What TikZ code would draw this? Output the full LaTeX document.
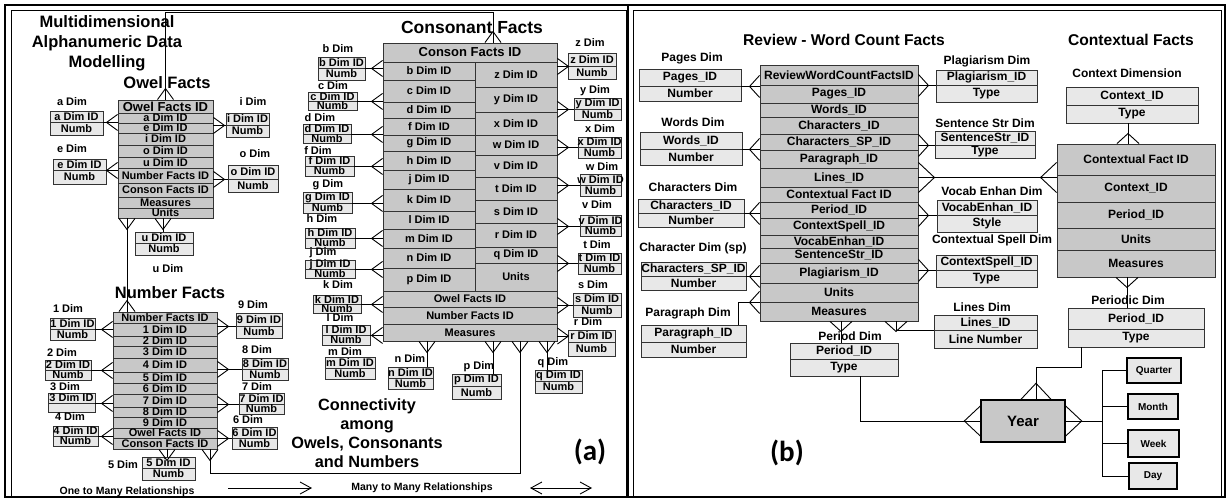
\documentclass[tikz,border=0pt]{standalone}
\usepackage{fontspec}
\setmainfont{Liberation Sans}
\newfontfamily\tagfont{Carlito}
\usepackage{tikz}
\definecolor{factgray}{RGB}{200,200,200}
\definecolor{dimgray}{RGB}{232,232,232}
\usetikzlibrary{positioning,fit,arrows.meta}

% one row of a facts table: [font] name x1 y1 x2 y2 text
\newcommand{\frow}[7][]{\node[factcell, fit={(#3,#4) (#5,#6)}, label={[cellfont,#1]center:{#7}}] (#2) {};}
% a dimension table: name x1 x2 y1 ymid y2 row1 row2
\newcommand{\dimtab}[8]{%
  \node[dimcell, fit={(#2,#4) (#3,#5)}, label={[cellfont]center:{#7}}] (#1) {};
  \node[dimcell, fit={(#2,#5) (#3,#6)}, label={[cellfont]center:{#8}}] (#1-b) {};}
% dimension left / right of a facts table
\newcommand{\linkW}[3][crow]{\draw[conn] (#2.south east) -- (#2.south east -| #3.west) pic{#1};}
\newcommand{\linkE}[3][crow]{\draw[conn] (#2.south west) -- (#2.south west -| #3.east) pic[rotate=180]{#1};}

\begin{document}
\begin{tikzpicture}[x=1pt, y=-1pt,
  conn/.style={draw=black, line width=0.9pt},
  factcell/.style={draw=black!80, fill=factgray, line width=0.9pt, inner sep=0pt},
  dimcell/.style={draw=black!80, fill=dimgray, line width=0.9pt, inner sep=0pt},
  cellfont/.style={font=\bfseries\fontsize{11}{12}\selectfont},
  bigcell/.style={font=\bfseries\fontsize{13}{14}\selectfont},
  lbl/.style={font=\bfseries\fontsize{11}{12}\selectfont, inner sep=0pt},
  head/.style={font=\bfseries\fontsize{16.5}{20}\selectfont, align=center, inner sep=0pt},
  tag/.style={font=\tagfont\bfseries\fontsize{29}{30}\selectfont, inner sep=0pt},
  yearbox/.style={draw=black, fill=factgray, line width=1.4pt, inner sep=0pt},
  periodbox/.style={draw=black, fill=dimgray, line width=1.4pt, inner sep=0pt},
  crow/.pic={\draw[conn] (0,-8) -- (-11,0) -- (0,8);},
  wcrow/.pic={\draw[conn] (0,-11) -- (-10,0) -- (0,11);},
  bigcrow/.pic={\draw[conn] (0,-15) -- (-16,0) -- (0,15);}
]
\useasboundingbox (0,0) rectangle (1229,500);

% frames
\draw[line width=2pt] (5,5) rectangle (1225,497);
\draw[line width=0.8pt] (11,10) rectangle (626,497);
\draw[line width=2pt] (628,5) -- (628,497);
\draw[line width=0.8pt] (633,10) rectangle (1221,497);

%%% (a)
\node[head] (title) at (107,43) {Multidimensional\\Alphanumeric Data\\Modelling};
\node[head] (owel-t) at (167,83) {Owel Facts};
\node[head] (num-t) at (170,293) {Number Facts};
\node[head, font=\bfseries\fontsize{17.5}{20}\selectfont] (con-t) at (472,27) {Consonant Facts};

% owel facts
\frow[bigcell]{o-id}{118}{100}{213}{113}{Owel Facts ID}
\frow{o-a}{118}{113}{213}{123}{a Dim ID}
\frow{o-e}{118}{123}{213}{133}{e Dim ID}
\frow{o-i}{118}{133}{213}{145}{i Dim ID}
\frow{o-o}{118}{145}{213}{157}{o Dim ID}
\frow{o-u}{118}{157}{213}{168}{u Dim ID}
\frow{o-num}{118}{168}{213}{183}{Number Facts ID}
\frow{o-con}{118}{183}{213}{197}{Conson Facts ID}
\frow{o-meas}{118}{197}{213}{208}{Measures}
\frow{o-units}{118}{208}{213}{218}{Units}

\node[lbl] (adim-t) at (72,102) {a Dim};
\dimtab{adim}{50}{103}{111}{122}{135}{a Dim ID}{Numb}
\node[lbl] (edim-t) at (72,149) {e Dim};
\dimtab{edim}{53}{106}{159}{170}{184}{e Dim ID}{Numb}
\node[lbl] (idim-t) at (253,102) {i Dim};
\dimtab{idim}{226}{269}{113}{125}{137}{i Dim ID}{Numb}
\node[lbl] (odim-t) at (255,154) {o Dim};
\dimtab{odim}{228}{278}{165}{179}{192}{o Dim ID}{Numb}
\dimtab{udim}{135}{193}{232}{243}{255}{u Dim ID}{Numb}
\node[lbl] (udim-t) at (168,269) {u Dim};

\linkW{adim}{o-id}
\linkW{edim}{o-id}
\linkE{idim}{o-id}
\linkE{odim}{o-id}
\draw[conn] (163,0 |- o-units.south) pic[rotate=90]{crow} -- (163,0 |- udim.north);

% number facts
\frow{n-id}{113}{312}{217}{323}{Number Facts ID}
\frow{n-1}{113}{323}{217}{336}{1 Dim ID}
\frow{n-2}{113}{336}{217}{346}{2 Dim ID}
\frow{n-3}{113}{346}{217}{358}{3 Dim ID}
\frow{n-4}{113}{358}{217}{372}{4 Dim ID}
\frow{n-5}{113}{372}{217}{383}{5 Dim ID}
\frow{n-6}{113}{383}{217}{394}{6 Dim ID}
\frow{n-7}{113}{394}{217}{407}{7 Dim ID}
\frow{n-8}{113}{407}{217}{417}{8 Dim ID}
\frow{n-9}{113}{417}{217}{428}{9 Dim ID}
\frow{n-ow}{113}{428}{217}{438}{Owel Facts ID}
\frow{n-con}{113}{438}{217}{449}{Conson Facts ID}

\node[lbl] (d1-t) at (68,309) {1 Dim};
\dimtab{d1}{50}{95}{318}{329}{340}{1 Dim ID}{Numb}
\node[lbl] (d2-t) at (62,353) {2 Dim};
\dimtab{d2}{45}{91}{360}{370}{380}{2 Dim ID}{Numb}
\node[lbl] (d3-t) at (65,387) {3 Dim};
\dimtab{d3}{48}{95}{393}{403}{412}{3 Dim ID}{}
\node[lbl] (d4-t) at (70,417) {4 Dim};
\dimtab{d4}{53}{98}{426}{436}{446}{4 Dim ID}{Numb}
\node[lbl] (d9-t) at (253,305) {9 Dim};
\dimtab{d9}{236}{282}{313}{326}{338}{9 Dim ID}{Numb}
\node[lbl] (d8-t) at (257,350) {8 Dim};
\dimtab{d8}{242}{288}{358}{369}{380}{8 Dim ID}{Numb}
\node[lbl] (d7-t) at (257,387) {7 Dim};
\dimtab{d7}{239}{284}{393}{404}{414}{7 Dim ID}{Numb}
\node[lbl] (d6-t) at (248,420) {6 Dim};
\dimtab{d6}{232}{277}{427}{438}{449}{6 Dim ID}{Numb}
\node[lbl] (d5-t) at (123,465) {5 Dim};
\dimtab{d5}{142}{195}{457}{468}{480}{5 Dim ID}{Numb}

\linkW{d1}{n-id}
\linkW{d2}{n-id}
\linkW{d3}{n-id}
\linkW{d4}{n-id}
\linkE{d9}{n-id}
\linkE{d8}{n-id}
\linkE{d7}{n-id}
\linkE{d6}{n-id}
\draw[conn] (167,0 |- n-con.south) pic[rotate=90]{crow} -- (167,0 |- d5.north);

% consonant facts
\frow[bigcell]{c-id}{383}{43}{557}{62}{Conson Facts ID}
\frow{c-b}{383}{62}{475}{80}{b Dim ID}
\frow{c-c}{383}{80}{475}{102}{c Dim ID}
\frow{c-d}{383}{102}{475}{118}{d Dim ID}
\frow{c-f}{383}{118}{475}{135}{f Dim ID}
\frow{c-g}{383}{135}{475}{151}{g Dim ID}
\frow{c-h}{383}{151}{475}{170}{h Dim ID}
\frow{c-j}{383}{170}{475}{189}{j Dim ID}
\frow{c-k}{383}{189}{475}{211}{k Dim ID}
\frow{c-l}{383}{211}{475}{229}{l Dim ID}
\frow{c-m}{383}{229}{475}{248}{m Dim ID}
\frow{c-n}{383}{248}{475}{268}{n Dim ID}
\frow{c-p}{383}{268}{475}{291}{p Dim ID}
\frow{c-z}{475}{62}{557}{87}{z Dim ID}
\frow{c-y}{475}{87}{557}{112}{y Dim ID}
\frow{c-x}{475}{112}{557}{135}{x Dim ID}
\frow{c-w}{475}{135}{557}{155}{w Dim ID}
\frow{c-v}{475}{155}{557}{177}{v Dim ID}
\frow{c-t}{475}{177}{557}{200}{t Dim ID}
\frow{c-s}{475}{200}{557}{223}{s Dim ID}
\frow{c-r}{475}{223}{557}{247}{r Dim ID}
\frow{c-q}{475}{247}{557}{263}{q Dim ID}
\frow{c-units}{475}{263}{557}{291}{Units}
\frow{c-ow}{383}{291}{557}{307}{Owel Facts ID}
\frow{c-num}{383}{307}{557}{324}{Number Facts ID}
\frow{c-meas}{383}{324}{557}{341}{Measures}

\node[lbl] (bdim-t) at (338,49) {b Dim};
\dimtab{bdim}{318}{365}{57}{68}{80}{b Dim ID}{Numb}
\node[lbl] (cdim-t) at (333,86) {c Dim};
\dimtab{cdim}{308}{357}{92}{101}{110}{c Dim ID}{Numb}
\node[lbl] (ddim-t) at (320,118) {d Dim};
\dimtab{ddim}{303}{351}{124}{134}{143}{d Dim ID}{Numb}
\node[lbl] (fdim-t) at (318,151) {f Dim};
\dimtab{fdim}{305}{354}{156}{166}{176}{f Dim ID}{Numb}
\node[lbl] (gdim-t) at (328,185) {g Dim};
\dimtab{gdim}{303}{352}{192}{203}{213}{g Dim ID}{Numb}
\node[lbl] (hdim-t) at (322,219) {h Dim};
\dimtab{hdim}{305}{355}{228}{238}{248}{h Dim ID}{Numb}
\node[lbl] (jdim-t) at (323,253) {j Dim};
\dimtab{jdim}{305}{355}{260}{269}{278}{j Dim ID}{Numb}
\node[lbl] (kdim-t) at (338,285) {k Dim};
\dimtab{kdim}{313}{361}{295}{304}{313}{k Dim ID}{Numb}
\node[lbl] (ldim-t) at (340,318) {l Dim};
\dimtab{ldim}{322}{370}{325}{335}{345}{l Dim ID}{Numb}
\node[lbl] (mdim-t) at (345,352) {m Dim};
\dimtab{mdim}{325}{375}{357}{368}{379}{m Dim ID}{Numb}
\node[lbl] (ndim-t) at (410,359) {n Dim};
\dimtab{ndim}{388}{433}{367}{378}{389}{n Dim ID}{Numb}
\node[lbl] (pdim-t) at (479,367) {p Dim};
\dimtab{pdim}{452}{501}{374}{386}{399}{p Dim ID}{Numb}
\node[lbl] (qdim-t) at (553,363) {q Dim};
\dimtab{qdim}{535}{582}{370}{381}{393}{q Dim ID}{Numb}
\node[lbl] (zdim-t) at (590,43) {z Dim};
\dimtab{zdim}{568}{616}{53}{66}{79}{z Dim ID}{Numb}
\node[lbl] (ydim-t) at (595,91) {y Dim};
\dimtab{ydim}{574}{621}{98}{109}{120}{y Dim ID}{Numb}
\node[lbl] (xdim-t) at (600,129) {x Dim};
\dimtab{xdim}{578}{621}{137}{147}{158}{x Dim ID}{Numb}
\node[lbl] (wdim-t) at (602,167) {w Dim};
\dimtab{wdim}{580}{621}{174}{185}{196}{w Dim ID}{Numb}
\node[lbl] (vdim-t) at (597,205) {v Dim};
\dimtab{vdim}{580}{621}{215}{226}{236}{v Dim ID}{Numb}
\node[lbl] (tdim-t) at (597,245) {t Dim};
\dimtab{tdim}{578}{621}{253}{263}{274}{t Dim ID}{Numb}
\node[lbl] (sdim-t) at (593,285) {s Dim};
\dimtab{sdim}{573}{621}{293}{305}{317}{s Dim ID}{Numb}
\node[lbl] (rdim-t) at (588,322) {r Dim};
\dimtab{rdim}{568}{615}{330}{342}{356}{r Dim ID}{Numb}

\linkW{bdim}{c-id}
\linkW{cdim}{c-id}
\linkW{ddim}{c-id}
\linkW{fdim}{c-id}
\linkW{gdim}{c-id}
\linkW{hdim}{c-id}
\linkW{jdim}{c-id}
\linkW{kdim}{c-id}
\linkW{ldim}{c-id}
\linkE{zdim}{c-id}
\linkE{ydim}{c-id}
\linkE{xdim}{c-id}
\linkE{wdim}{c-id}
\linkE{vdim}{c-id}
\linkE{tdim}{c-id}
\linkE{sdim}{c-id}
\draw[conn] (rdim.west) -- (rdim.west -| c-meas.east) pic[rotate=180]{crow};
\draw[conn] (427,0 |- c-meas.south) pic[rotate=90]{crow} -- (427,0 |- ndim.north);
\draw[conn] (493,0 |- c-meas.south) pic[rotate=90]{crow} -- (493,0 |- pdim.north);
\draw[conn] (547,0 |- c-meas.south) pic[rotate=90]{crow} -- (547,0 |- qdim.north);

% many to many between the facts
\draw[conn] (o-id.north) pic[rotate=-90]{crow} -- ++(0,-87) -| (493,0 |- c-id.north) pic[rotate=-90]{crow};
\draw[conn] (127,0 |- o-units.south) pic[rotate=90]{crow} -- (127,0 |- n-id.north) pic[rotate=-90]{crow};
\draw[conn] (210,0 |- n-con.south) pic[rotate=90]{crow} -- (210,473) -| (520,0 |- c-meas.south) pic[rotate=90]{crow};

\node[head, font=\bfseries\fontsize{16.3}{19}\selectfont] (conn-t) at (367,433) {Connectivity\\among\\Owels, Consonants\\and Numbers};
\node[tag] (tag-a) at (590,452) {(a)};

% legend
\node[lbl, font=\bfseries\fontsize{10.5}{12}\selectfont] (one-t) at (127,492) {One to Many Relationships};
\coordinate (one-a) at (228,488);
\coordinate (one-b) at (312,488);
\draw[conn, -{Straight Barb[length=11pt,width=12pt]}] (one-a) -- (one-b);
\node[lbl, font=\bfseries\fontsize{10.5}{12}\selectfont] (many-t) at (422,488) {Many to Many Relationships};
\coordinate (many-a) at (530,488);
\coordinate (many-b) at (592,488);
\draw[conn, {Straight Barb[length=11pt,width=12pt]}-{Straight Barb[length=11pt,width=12pt]}] (many-a) -- (many-b);

%%% (b)
\begin{scope}[cellfont/.style={font=\bfseries\fontsize{12}{13}\selectfont},
  lbl/.style={font=\bfseries\fontsize{12}{13}\selectfont, inner sep=0pt}]
\node[head, font=\bfseries\fontsize{15.6}{18}\selectfont] (rw-t) at (844,40) {Review - Word Count Facts};
\node[head, font=\bfseries\fontsize{15.6}{18}\selectfont] (cf-t) at (1131,40) {Contextual Facts};

% review word count facts
\frow{rw-id}{760}{65}{918}{85}{ReviewWordCountFactsID}
\frow{rw-pages}{760}{85}{918}{103}{Pages\_ID}
\frow{rw-words}{760}{103}{918}{117}{Words\_ID}
\frow{rw-chars}{760}{117}{918}{134}{Characters\_ID}
\frow{rw-charsp}{760}{134}{918}{150}{Characters\_SP\_ID}
\frow{rw-para}{760}{150}{918}{168}{Paragraph\_ID}
\frow{rw-lines}{760}{168}{918}{187}{Lines\_ID}
\frow{rw-ctx}{760}{187}{918}{202}{Contextual Fact ID}
\frow{rw-period}{760}{202}{918}{218}{Period\_ID}
\frow{rw-spell}{760}{218}{918}{235}{ContextSpell\_ID}
\frow{rw-vocab}{760}{235}{918}{248}{VocabEnhan\_ID}
\frow{rw-sent}{760}{248}{918}{263}{SentenceStr\_ID}
\frow{rw-plag}{760}{263}{918}{283}{Plagiarism\_ID}
\frow{rw-units}{760}{283}{918}{302}{Units}
\frow{rw-meas}{760}{302}{918}{321}{Measures}

\node[lbl] (pagesdim-t) at (692,58) {Pages Dim};
\dimtab{pagesdim}{639}{741}{69}{86}{101}{Pages\_ID}{Number}
\node[lbl] (wordsdim-t) at (693,122) {Words Dim};
\dimtab{wordsdim}{640}{742}{132}{149}{165}{Words\_ID}{Number}
\node[lbl] (charsdim-t) at (693,187) {Characters Dim};
\dimtab{charsdim}{638}{744}{199}{213}{227}{Characters\_ID}{Number}
\node[lbl] (charspdim-t) at (693,248) {Character Dim (sp)};
\dimtab{charspdim}{641}{746}{262}{276}{290}{Characters\_SP\_ID}{Number}
\node[lbl] (paradim-t) at (688,313) {Paragraph Dim};
\dimtab{paradim}{641}{746}{325}{342}{357}{Paragraph\_ID}{Number}

\node[lbl] (plagdim-t) at (987,61) {Plagiarism Dim};
\dimtab{plagdim}{936}{1037}{70}{85}{102}{Plagiarism\_ID}{Type}
\node[lbl] (sentdim-t) at (985,123) {Sentence Str Dim};
\dimtab{sentdim}{935}{1035}{131}{145}{158}{SentenceStr\_ID}{Type}
\node[lbl] (vocabdim-t) at (992,191) {Vocab Enhan Dim};
\dimtab{vocabdim}{937}{1037}{200}{215}{232}{VocabEnhan\_ID}{Style}
\node[lbl] (spelldim-t) at (992,240) {Contextual Spell Dim};
\dimtab{spelldim}{936}{1037}{255}{270}{287}{ContextSpell\_ID}{Type}
\node[lbl] (linesdim-t) at (982,307) {Lines Dim};
\dimtab{linesdim}{934}{1037}{315}{330}{348}{Lines\_ID}{Line Number}

\node[lbl] (perdim2-t) at (850,336) {Period Dim};
\dimtab{perdim2}{790}{898}{343}{359}{376}{Period\_ID}{Type}

\linkW[wcrow]{pagesdim}{rw-id}
\linkW[wcrow]{wordsdim}{rw-id}
\linkW[wcrow]{charsdim}{rw-id}
\linkW[wcrow]{charspdim}{rw-id}
\draw[conn] (738,0 |- paradim.north) |- (rw-units.south west) pic{wcrow};
\linkE[wcrow]{plagdim}{rw-id}
\linkE[wcrow]{sentdim}{rw-id}
\linkE[wcrow]{vocabdim}{rw-id}
\linkE[wcrow]{spelldim}{rw-id}
\draw[conn] (896,0 |- rw-meas.south) pic[rotate=90]{wcrow} |- (linesdim.south west);
\draw[conn] (841,0 |- rw-meas.south) pic[rotate=90]{wcrow} -- (841,0 |- perdim2.north);

% contextual facts
\frow{cf-id}{1057}{144}{1215}{175}{Contextual Fact ID}
\frow{cf-ctx}{1057}{175}{1215}{202}{Context\_ID}
\frow{cf-period}{1057}{202}{1215}{228}{Period\_ID}
\frow{cf-units}{1057}{228}{1215}{250}{Units}
\frow{cf-meas}{1057}{250}{1215}{277}{Measures}

\node[lbl] (ctxdim-t) at (1127,73) {Context Dimension};
\dimtab{ctxdim}{1066}{1198}{87}{105}{123}{Context\_ID}{Type}
\node[lbl] (perdim-t) at (1128,300) {Periodic Dim};
\dimtab{perdim}{1068}{1204}{308}{329}{347}{Period\_ID}{Type}

\draw[conn] (1128,0 |- ctxdim-b.south) -- (1128,0 |- cf-id.north) pic[rotate=-90]{wcrow};
\draw[conn] (1127,0 |- cf-meas.south) pic[rotate=90]{wcrow} -- (1127,0 |- perdim.north);
\draw[conn] (rw-lines.east) pic[rotate=180]{bigcrow} -- (rw-lines.east -| cf-id.west) pic{bigcrow};

% time hierarchy
\node[yearbox, fit={(981,400) (1065,442)}, label={[font=\bfseries\fontsize{15}{16}\selectfont]center:Year}] (year) {};
\node[periodbox, fit={(1127,358) (1181,383)}, label={[font=\bfseries\fontsize{10}{11}\selectfont]center:Quarter}] (quarter) {};
\node[periodbox, fit={(1128,394) (1178,419)}, label={[font=\bfseries\fontsize{10}{11}\selectfont]center:Month}] (month) {};
\node[periodbox, fit={(1128,430) (1179,457)}, label={[font=\bfseries\fontsize{10}{11}\selectfont]center:Week}] (week) {};
\node[periodbox, fit={(1129,463) (1177,489)}, label={[font=\bfseries\fontsize{10}{11}\selectfont]center:Day}] (day) {};
\coordinate (bus) at (1102,421);

\draw[conn] (860,0 |- perdim2-b.south) |- (year.west) pic{bigcrow};
\draw[conn] (1081,0 |- perdim-b.south) |- (1036,367) -- (1036,0 |- year.north) pic[rotate=-90]{bigcrow};
\draw[conn] (year.east) pic[rotate=180]{bigcrow} -- (bus);
\draw[conn] (quarter.west) -| (bus) |- (day.west);
\draw[conn] (month.west) -- (month.west -| bus);
\draw[conn] (week.west) -- (week.west -| bus);

\node[tag] (tag-b) at (787,453) {(b)};
\end{scope}
\end{tikzpicture}
\end{document}
